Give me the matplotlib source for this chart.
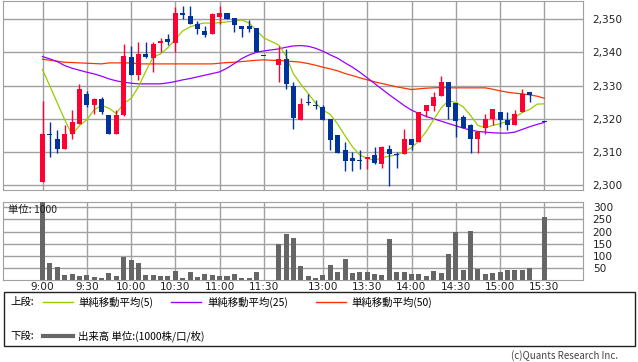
import numpy as np
import pandas as pd
import matplotlib
matplotlib.use('Agg')
import matplotlib.pyplot as plt
from matplotlib.patches import Rectangle
from matplotlib.lines import Line2D

plt.rcParams['font.family'] = ['Noto Sans CJK JP', 'DejaVu Sans']

# 5-minute bars: morning 9:00-11:30, afternoon 12:30-15:30
morning = pd.date_range('2024-01-01 09:00', '2024-01-01 11:30', freq='5min')
afternoon = pd.date_range('2024-01-01 12:30', '2024-01-01 15:30', freq='5min')

nan = np.nan
opens = [2300.9, 2315.5, 2314.0, 2310.8, 2315.3, 2318.3, 2327.5, 2324.0, 2326.0, 2321.2,
         2315.3, 2321.0, 2338.6, 2333.3, 2339.5, 2338.4, 2342.8, 2344.0, 2342.9, 2351.8,
         2350.9, 2348.5, 2346.3, 2345.6, 2350.7, 2351.7, 2350.2, 2347.9, 2347.9, 2347.3, 2338.8,
         2336.3, 2338.0, 2329.8, 2319.7, 2325.1, 2324.1, 2323.5, 2319.9, 2315.1, 2310.6,
         2308.2, 2307.6, 2307.8, 2309.1, 2306.5, 2310.9, 2309.5, 2309.5, 2313.9, 2312.9,
         2322.3, 2323.9, 2326.9, 2331.1, 2324.6, 2320.6, 2318.1, 2313.8, 2317.3, 2319.8,
         2321.9, 2319.6, 2318.2, 2321.9, 2328.1, nan, 2319.0]
highs = [2325.2, 2319.1, 2316.7, 2318.2, 2322.7, 2330.5, 2328.4, 2326.1, 2326.6, 2321.2,
         2322.5, 2342.5, 2342.0, 2343.1, 2343.1, 2343.1, 2344.4, 2345.5, 2353.5, 2353.9,
         2353.9, 2349.4, 2347.9, 2351.7, 2353.9, 2351.7, 2350.2, 2347.9, 2349.7, 2347.3, 2338.8,
         2341.9, 2340.9, 2331.1, 2326.1, 2327.5, 2325.6, 2324.1, 2319.9, 2315.1, 2312.9,
         2310.0, 2310.6, 2308.6, 2311.6, 2311.9, 2312.1, 2310.1, 2317.0, 2313.9, 2321.9,
         2324.1, 2328.1, 2332.9, 2331.1, 2324.6, 2321.2, 2318.4, 2316.1, 2321.3, 2322.9,
         2321.9, 2321.9, 2322.6, 2328.9, 2328.1, nan, 2319.0]
lows = [2300.9, 2308.4, 2309.6, 2310.8, 2313.8, 2318.3, 2323.4, 2321.3, 2321.4, 2315.3,
        2315.3, 2320.8, 2333.3, 2331.7, 2338.4, 2334.2, 2340.2, 2342.2, 2340.2, 2349.9,
        2348.6, 2345.6, 2344.7, 2345.6, 2348.5, 2349.9, 2346.2, 2344.7, 2346.2, 2340.0, 2338.8,
        2331.2, 2328.9, 2316.8, 2319.7, 2324.0, 2322.9, 2319.7, 2310.7, 2309.8, 2304.4,
        2304.4, 2304.9, 2304.9, 2306.4, 2305.3, 2299.9, 2305.3, 2309.5, 2310.6, 2312.9,
        2320.6, 2322.3, 2326.9, 2319.8, 2314.4, 2317.3, 2309.6, 2309.6, 2315.3, 2318.1,
        2317.6, 2316.6, 2318.2, 2321.9, 2325.0, nan, 2319.0]
closes = [2315.5, 2315.0, 2310.8, 2315.5, 2319.1, 2329.0, 2324.0, 2325.8, 2321.9, 2315.3,
          2321.2, 2338.9, 2333.3, 2339.5, 2338.7, 2342.5, 2343.4, 2343.1, 2351.8, 2351.2,
          2348.6, 2347.1, 2345.3, 2351.5, 2351.8, 2349.9, 2348.3, 2347.1, 2347.1, 2340.0, 2338.8,
          2338.0, 2330.4, 2320.3, 2324.3, 2324.8, 2323.8, 2319.7, 2313.7, 2309.8, 2307.4,
          2307.4, 2307.4, 2308.6, 2306.7, 2311.6, 2309.5, 2309.2, 2313.9, 2312.1, 2321.9,
          2324.1, 2326.6, 2331.1, 2323.4, 2319.4, 2317.3, 2313.8, 2316.1, 2319.9, 2322.9,
          2319.6, 2318.2, 2321.4, 2327.5, 2327.3, nan, 2319.0]
volume = [325, 72, 54, 21, 24, 17, 21, 11, 7, 29, 17, 97, 83, 72, 21, 21, 17, 17, 39, 8,
          33, 12, 25, 21, 17, 17, 25, 8, 8, 33, 1,
          147, 189, 175, 58, 17, 8, 21, 62, 33, 87, 29, 33, 33, 25, 21, 171, 33, 33, 25, 25,
          17, 37, 29, 108, 197, 42, 204, 46, 25, 29, 33, 42, 42, 42, 50, 0, 262]
ma5 = [2334.8, 2329.8, 2324.8, 2319.8, 2315.2, 2317.9, 2319.7, 2322.7, 2324.0, 2323.2,
       2321.6, 2324.6, 2326.1, 2329.6, 2334.3, 2338.6, 2339.5, 2341.4, 2343.9, 2346.4,
       2347.6, 2348.4, 2348.8, 2348.7, 2348.9, 2349.1, 2349.4, 2349.7, 2348.8, 2346.5, 2344.3,
       2342.2, 2338.9, 2333.5, 2330.4, 2327.6, 2324.7, 2322.6, 2321.3, 2318.4, 2314.9,
       2311.6, 2309.1, 2308.1, 2307.5, 2308.3, 2308.8, 2309.1, 2310.2, 2311.3, 2313.3,
       2316.2, 2319.7, 2323.2, 2325.4, 2324.9, 2323.6, 2321.0, 2318.0, 2317.3, 2318.0,
       2318.5, 2319.3, 2320.4, 2321.9, 2322.8, 2324.4, 2324.5]
ma25 = [2338.7, 2338.0, 2337.2, 2336.0, 2335.2, 2334.6, 2334.0, 2333.5, 2332.8, 2332.0,
        2331.4, 2331.0, 2330.7, 2330.5, 2330.5, 2330.5, 2330.5, 2330.8, 2331.2, 2331.7,
        2332.1, 2332.6, 2333.1, 2333.6, 2334.1, 2335.2, 2336.6, 2338.1, 2339.2, 2340.0, 2340.4,
        2341.0, 2341.5, 2341.9, 2342.0, 2341.8, 2341.2, 2340.3, 2339.2, 2338.2, 2336.8,
        2335.5, 2334.0, 2332.3, 2330.6, 2328.9, 2327.2, 2325.6, 2324.0, 2322.6, 2321.6,
        2320.7, 2320.0, 2319.3, 2318.6, 2317.9, 2317.2, 2316.6, 2316.2, 2316.0, 2315.8,
        2315.7, 2315.7, 2316.0, 2316.8, 2317.6, 2318.3, 2318.9]
ma50 = [2337.9, 2337.6, 2337.3, 2337.0, 2336.9, 2336.8, 2336.7, 2336.6, 2336.5, 2336.8,
        2336.8, 2336.8, 2336.8, 2336.5, 2336.5, 2336.5, 2336.5, 2336.5, 2336.5, 2336.5,
        2336.5, 2336.5, 2336.5, 2336.5, 2336.7, 2336.9, 2337.0, 2337.2, 2337.4, 2337.6, 2337.7,
        2337.5, 2337.4, 2337.2, 2337.0, 2336.6, 2336.1, 2335.5, 2335.0, 2334.4, 2333.6,
        2333.0, 2332.3, 2331.7, 2331.1, 2330.6, 2330.1, 2329.6, 2329.2, 2328.8, 2329.0,
        2329.2, 2329.3, 2329.4, 2329.3, 2329.3, 2329.3, 2329.3, 2329.3, 2329.3, 2328.9,
        2328.4, 2328.0, 2327.7, 2327.5, 2327.2, 2326.8, 2326.2]

tick_labels = ['9:00', '9:30', '10:00', '10:30', '11:00', '11:30',
               '13:00', '13:30', '14:00', '14:30', '15:00', '15:30']
price_ticks = [2300, 2310, 2320, 2330, 2340, 2350]
vol_ticks = [50, 100, 150, 200, 250, 300]

RED = '#ff0033'
BLUE = '#003399'
GRID = '#a0a0a0'
C5, C25, C50 = '#99cc00', '#9900ff', '#ff3300'

# slot positions: one empty slot between the sessions
times = list(morning) + list(afternoon)
pos = np.r_[np.arange(len(morning)), np.arange(len(afternoon)) + len(morning) + 1]
labels_all = [f'{t.hour}:{t.minute:02d}' for t in times]
tick_pos = [pos[labels_all.index(l)] for l in tick_labels]

opens, highs, lows, closes = map(np.array, (opens, highs, lows, closes))
valid = ~np.isnan(closes)

W, H = 638, 362
fig = plt.figure(figsize=(W / 100, H / 100), dpi=100)

def px_axes(x0, y0, x1, y1):
    return fig.add_axes([x0 / W, 1 - y1 / H, (x1 - x0) / W, (y1 - y0) / H])

x0_px, slot_px, right_px = 42.5, 7.38, 583
xlim = ((3.3 - x0_px) / slot_px, (right_px - x0_px) / slot_px)

ax = px_axes(3.3, 1, right_px, 190)
ax2 = px_axes(3.3, 202, right_px, 280)

# --- price panel
ax.plot(pos, ma50, color=C50, lw=0.9, zorder=3)
ax.plot(pos, ma25, color=C25, lw=0.9, zorder=3)
ax.plot(pos, ma5, color=C5, lw=0.9, zorder=3)

colors = np.where(closes > opens, RED, BLUE)
ax.vlines(pos[valid], lows[valid], highs[valid], colors=colors[valid], lw=1.0, zorder=4)
body_lo = np.minimum(opens, closes)
body_h = np.maximum(np.abs(closes - opens), 0.35)
ax.bar(pos[valid], body_h[valid], bottom=body_lo[valid], width=0.68,
       color=colors[valid], lw=0, zorder=5)

ax.set_xlim(*xlim)
ax.set_ylim(2298.6, 2355.4)
ax.set_xticks(tick_pos)
ax.set_xticklabels([])
ax.set_yticks(price_ticks)
ax.set_yticklabels([f'{v:,}' for v in price_ticks], fontsize=7.6, color='#222222',
                   family='DejaVu Sans')
ax.yaxis.tick_right()
ax.tick_params(length=0, pad=7)
ax.grid(True, color=GRID, lw=1.0)
ax.set_axisbelow(True)
for s in ax.spines.values():
    s.set_color(GRID)

# --- volume panel
vol = np.array(volume, dtype=float)
ax2.bar(pos, vol, width=0.68, color='#666666', lw=0, zorder=3)
ax2.set_xlim(*xlim)
ax2.set_ylim(0, 322)
ax2.set_xticks(tick_pos)
ax2.set_xticklabels(tick_labels, fontsize=7.6, color='#222222', family='DejaVu Sans')
ax2.set_yticks(vol_ticks)
ax2.set_yticklabels([str(v) for v in vol_ticks], fontsize=7.6, color='#222222',
                    family='DejaVu Sans')
ax2.yaxis.tick_right()
ax2.tick_params(axis='y', length=0, pad=7)
ax2.tick_params(axis='x', length=0, pad=1.5)
ax2.grid(True, color=GRID, lw=1.0)
ax2.set_axisbelow(True)
for s in ax2.spines.values():
    s.set_color(GRID)
ax2.text(0.008, 0.9, '単位: 1000', transform=ax2.transAxes, fontsize=7.5,
         va='center', ha='left', color='#222222', zorder=4)

# --- legend box
def fx(x):
    return x / W

def fy(y):
    return 1 - y / H

fig.patches.append(Rectangle((fx(4), fy(346)), fx(631), 54 / H, transform=fig.transFigure,
                             fill=False, edgecolor='#222222', lw=1.0))
fs = 7.5
row1, row2 = 302, 336
fig.text(fx(10), fy(row1), '上段:', fontsize=fs, va='center')
for x_line, x_txt, c, name in [(43, 78, C5, '単純移動平均(5)'),
                               (171, 207, C25, '単純移動平均(25)'),
                               (316, 351, C50, '単純移動平均(50)')]:
    fig.lines.append(Line2D([fx(x_line), fx(x_line + 30)], [fy(row1), fy(row1)],
                            transform=fig.transFigure, color=c, lw=1.0))
    fig.text(fx(x_txt), fy(row1), name, fontsize=fs, va='center')
fig.text(fx(10), fy(row2), '下段:', fontsize=fs, va='center')
fig.lines.append(Line2D([fx(43), fx(73)], [fy(row2), fy(row2)],
                        transform=fig.transFigure, color='#666666', lw=3.0))
fig.text(fx(78), fy(row2), '出来高 単位:(1000株/口/枚)', fontsize=fs, va='center')

fig.text(fx(618), fy(356), '(c)Quants Research Inc.', fontsize=7, va='center',
         ha='right', color='#444444')

fig.savefig('out.png', dpi=100)
